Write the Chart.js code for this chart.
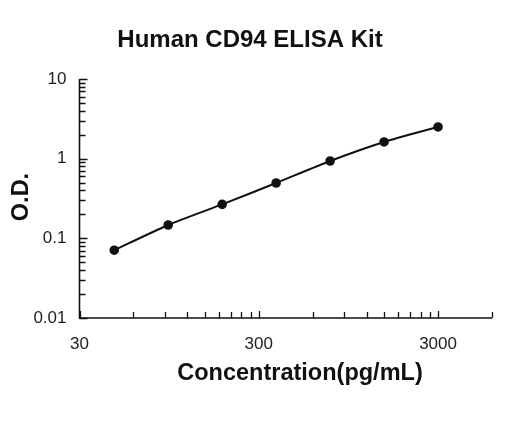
<!DOCTYPE html>
<html>
<head>
<meta charset="utf-8">
<script src="https://cdn.jsdelivr.net/npm/chart.js@4"></script>
<style>
  html, body { margin: 0; padding: 0; background: #fff; }
  #wrap { width: 520px; height: 421px; }
</style>
</head>
<body>
<div id="wrap"><canvas id="elisaChart"></canvas></div>
<script>
// standard curve values
const concentrations = [46.875, 93.75, 187.5, 375, 750, 1500, 3000];
const odValues = [0.071, 0.147, 0.267, 0.495, 0.935, 1.62, 2.5];

const xLabelTicks = [30, 300, 3000];
const yLabelTicks = [0.01, 0.1, 1, 10];
const yTickLabels = ["0.01", "0.1", "1", "10"];

const chartTitle = "Human CD94 ELISA Kit";
const xTitle = "Concentration(pg/mL)";
const yTitle = "O.D.";

// minor ticks: x at multiples of 30, y at 1..9 per decade
const xTicks = [];
for (let d = 1; d <= 100; d *= 10) {
  for (let k = 1; k < 10; k++) xTicks.push(30 * d * k);
}
xTicks.push(6000);
const yTicks = [];
for (let d = 0.01; d < 10; d *= 10) {
  for (let k = 1; k < 10; k++) yTicks.push(+(d * k).toPrecision(3));
}
yTicks.push(10);

const points = concentrations.map((c, i) => ({ x: c, y: odValues[i] }));

const axesPlugin = {
  id: "axesPlugin",
  afterDraw(chart) {
    const ctx = chart.ctx;
    const xs = chart.scales.x, ys = chart.scales.y;
    const left = xs.left, right = xs.right, top = ys.top, bottom = ys.bottom;
    ctx.save();
    ctx.strokeStyle = "#111";
    ctx.lineWidth = 1.6;
    ctx.beginPath();
    ctx.moveTo(left, top);
    ctx.lineTo(left, bottom);
    ctx.lineTo(right, bottom);
    ctx.stroke();

    ctx.lineWidth = 1.3;
    ctx.beginPath();
    xTicks.forEach(v => {
      const px = Math.round(xs.getPixelForValue(v)) + 0.5;
      const len = xLabelTicks.includes(v) ? 7 : 6;
      ctx.moveTo(px, bottom);
      ctx.lineTo(px, bottom - len);
    });
    yTicks.forEach(v => {
      const py = Math.round(ys.getPixelForValue(v)) + 0.5;
      const len = yLabelTicks.includes(v) ? 8 : 6;
      ctx.moveTo(left, py);
      ctx.lineTo(left + len, py);
    });
    ctx.stroke();

    ctx.fillStyle = "#222";
    ctx.font = "17px 'Liberation Sans', Arial, sans-serif";
    ctx.textAlign = "right";
    ctx.textBaseline = "middle";
    yLabelTicks.forEach((v, i) => {
      ctx.fillText(yTickLabels[i], left - 13, ys.getPixelForValue(v));
    });
    ctx.textAlign = "center";
    ctx.textBaseline = "alphabetic";
    xLabelTicks.forEach(v => {
      ctx.fillText(String(v), xs.getPixelForValue(v), bottom + 31);
    });

    ctx.fillStyle = "#111";
    ctx.font = "bold 24px 'Liberation Sans', Arial, sans-serif";
    ctx.fillText(chartTitle, 250, 47);
    ctx.font = "bold 23.5px 'Liberation Sans', Arial, sans-serif";
    ctx.fillText(xTitle, 300, 380);
    ctx.save();
    ctx.translate(28, 197);
    ctx.rotate(-Math.PI / 2);
    ctx.fillText(yTitle, 0, 0);
    ctx.restore();
    ctx.restore();
  }
};

new Chart(document.getElementById("elisaChart"), {
  type: "scatter",
  data: {
    datasets: [{
      data: points,
      showLine: true,
      borderColor: "#111",
      borderWidth: 2,
      backgroundColor: "#111",
      pointRadius: 3.8,
      pointHoverRadius: 3.8,
      tension: 0.2,
    }],
  },
  options: {
    responsive: true,
    maintainAspectRatio: false,
    animation: false,
    layout: { padding: { left: 79.5, right: 28, top: 79, bottom: 103 } },
    plugins: {
      legend: { display: false },
      tooltip: { enabled: false },
    },
    scales: {
      x: { type: "logarithmic", min: 30, max: 6000, display: false },
      y: { type: "logarithmic", min: 0.01, max: 10, display: false },
    },
  },
  plugins: [axesPlugin],
});
</script>
</body>
</html>
